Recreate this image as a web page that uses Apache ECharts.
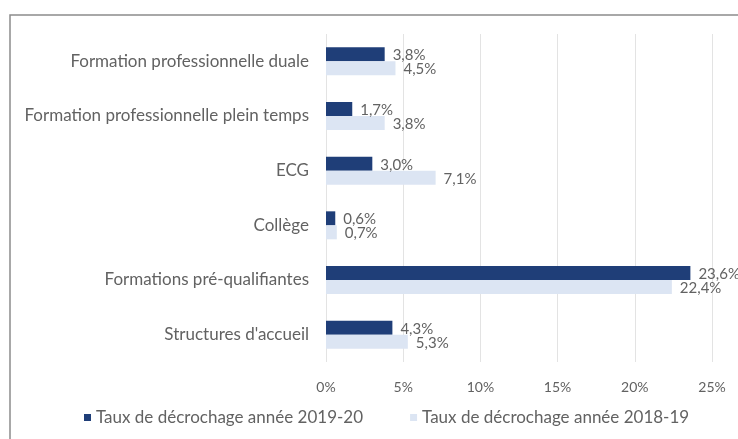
<!DOCTYPE html>
<html>
<head>
<meta charset="utf-8">
<script src="https://cdn.jsdelivr.net/npm/echarts@6/dist/echarts.min.js"></script>
<style>
  html, body { margin: 0; padding: 0; background: #ffffff; }
  #chart { width: 738px; height: 439px; }
</style>
</head>
<body>
<div id="chart"></div>
<script>
// Dropout rates by training path, two school years
const categories = [
  "Formation professionnelle duale",
  "Formation professionnelle plein temps",
  "ECG",
  "Collège",
  "Formations pré-qualifiantes",
  "Structures d'accueil"
];
const rates2019 = [3.8, 1.7, 3.0, 0.6, 23.6, 4.3];
const rates2018 = [4.5, 3.8, 7.1, 0.7, 22.4, 5.3];
const seriesNames = ["Taux de décrochage année 2019-20", "Taux de décrochage année 2018-19"];
const xTicks = [0, 5, 10, 15, 20, 25];

const FONT = "Lato";
const TEXT = "#626262";

const fmtPct = v => v.toFixed(1).replace(".", ",") + "%";

const chart = echarts.init(document.getElementById("chart"), null, { renderer: "canvas" });

chart.setOption({
  animation: false,
  backgroundColor: "#ffffff",
  textStyle: { fontFamily: FONT, color: TEXT },
  graphic: [{
    type: "rect",
    shape: { x: 10, y: 15, width: 800, height: 500 },
    style: { fill: "none", stroke: "#8c8c8c", lineWidth: 1.5 },
    silent: true
  }],
  grid: { left: 326, right: 26, top: 34, bottom: 77, containLabel: false },
  legend: {
    left: 79,
    top: 404,
    itemWidth: 7,
    itemHeight: 7,
    itemGap: 47,
    icon: "rect",
    textStyle: { fontFamily: FONT, fontSize: 17, color: TEXT },
    data: seriesNames
  },
  xAxis: {
    type: "value",
    min: xTicks[0],
    max: xTicks[xTicks.length - 1],
    interval: 5,
    axisLine: { show: false },
    axisTick: { show: false },
    splitLine: { lineStyle: { color: "#e3e3e3", width: 1 } },
    axisLabel: {
      fontFamily: FONT, fontSize: 14, color: TEXT, margin: 18,
      formatter: v => v + "%"
    }
  },
  yAxis: {
    type: "category",
    inverse: true,
    data: categories,
    axisLine: { show: false },
    axisTick: { show: false },
    axisLabel: { fontFamily: FONT, fontSize: 17, color: TEXT, margin: 17 }
  },
  series: [
    {
      name: seriesNames[0],
      type: "bar",
      data: rates2019,
      barWidth: 14,
      barGap: "0%",
      itemStyle: { color: "#1f3e78" },
      label: {
        show: true, position: "right", distance: 8, offset: [0, 1],
        fontFamily: FONT, fontSize: 15, color: TEXT,
        formatter: p => fmtPct(p.value)
      }
    },
    {
      name: seriesNames[1],
      type: "bar",
      data: rates2018,
      barWidth: 14,
      barGap: "0%",
      itemStyle: { color: "#dce5f3" },
      label: {
        show: true, position: "right", distance: 8, offset: [0, 1],
        fontFamily: FONT, fontSize: 15, color: TEXT,
        formatter: p => fmtPct(p.value)
      }
    }
  ]
});
</script>
</body>
</html>
